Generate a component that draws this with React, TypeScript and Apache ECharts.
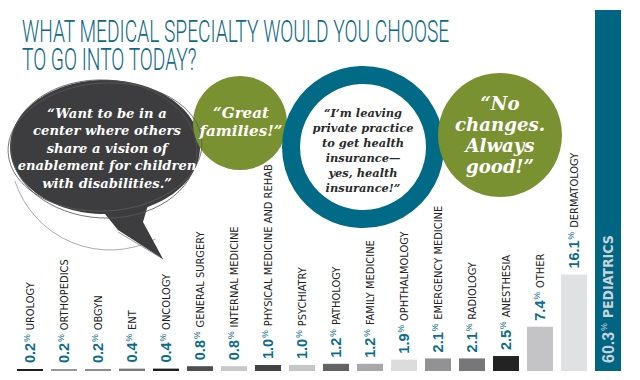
import React, { useEffect, useRef } from 'react';
import * as echarts from 'echarts';

const titleLines = ['WHAT MEDICAL SPECIALTY WOULD YOU CHOOSE', 'TO GO INTO TODAY?'];

const categories = [
  'UROLOGY', 'ORTHOPEDICS', 'OBGYN', 'ENT', 'ONCOLOGY', 'GENERAL SURGERY',
  'INTERNAL MEDICINE', 'PHYSICAL MEDICINE AND REHAB', 'PSYCHIATRY', 'PATHOLOGY',
  'FAMILY MEDICINE', 'OPHTHALMOLOGY', 'EMERGENCY MEDICINE', 'RADIOLOGY',
  'ANESTHESIA', 'OTHER', 'DERMATOLOGY', 'PEDIATRICS',
];
const values = [0.2, 0.2, 0.2, 0.4, 0.4, 0.8, 0.8, 1.0, 1.0, 1.2, 1.2, 1.9, 2.1, 2.1, 2.5, 7.4, 16.1, 60.3];
const barColors = [
  '#1e1e1e', '#9a9a9a', '#8c8c8c', '#7a7a7a', '#1e1e1e', '#4e4e50',
  '#c8c8c8', '#444446', '#c6c6c6', '#636365', '#a8a8aa', '#dcdcdc',
  '#929294', '#77777a', '#232323', '#c4c4c6', '#e0e1e3', '#006583',
];

const quoteBlob = '\u201CWant to be in a\ncenter where others\nshare a vision of\nenablement for children\nwith disabilities.\u201D';
const quoteGreat = '\u201CGreat\nfamilies!\u201D';
const quoteRing = '\u201CI\u2019m leaving\nprivate practice\nto get health\ninsurance\u2014\nyes, health\ninsurance!\u201D';
const quoteNo = '\u201CNo\nchanges.\nAlways\ngood!\u201D';

const GREEN = '#7a9132';
const NARROW = "'Liberation Sans Narrow', 'DejaVu Sans Condensed', 'Roboto Condensed', sans-serif";
const SANS = "'Liberation Sans', Arial, sans-serif";
const SERIF = "'DejaVu Serif', 'Liberation Serif', serif";

function measure(text: string, font: string): number {
  const c = document.createElement('canvas').getContext('2d') as CanvasRenderingContext2D;
  c.font = font;
  return c.measureText(text).width;
}

function fitSize(text: string, target: number): number {
  const w = measure(text, `italic bold 20px ${SERIF}`);
  return (20 * target) / w;
}

export default function App() {
  const ref = useRef<HTMLDivElement>(null);
  useEffect(() => {
    const chart = echarts.init(ref.current as HTMLDivElement, null, { renderer: 'svg' });

    const titleFont = `300 32px Roboto`;
    const titleScale = 428 / measure(titleLines[0], titleFont);

    const blobSize = fitSize('enablement for children', 179);
    const greatSize = fitSize('families!\u201D', 83);
    const ringSize = fitSize('private practice', 101);
    const noSize = fitSize('changes.', 90);

    const quoteText = (x: number, y: number, text: string, size: number, lh: number, fill: string) => ({
      type: 'text',
      x,
      y,
      z: 20,
      style: {
        text,
        fill,
        fontFamily: SERIF,
        fontStyle: 'italic',
        fontWeight: 'bold',
        fontSize: size,
        lineHeight: lh,
        align: 'center',
        textAlign: 'center',
        verticalAlign: 'middle',
        textVerticalAlign: 'middle',
      },
    });

    const data = values.map((v, i) => {
      const item: any = { value: v, itemStyle: { color: barColors[i] } };
      if (i === values.length - 1) {
        item.label = {
          position: 'insideBottom',
          distance: 8,
          formatter: `{pp|${v.toFixed(1)}}{ps|%}{pn|${categories[i]}}`,
        };
      }
      return item;
    });

    const option: any = {
      animation: false,
      grid: { left: 13, right: 15, top: 10, bottom: 9 },
      xAxis: {
        type: 'category',
        data: categories,
        show: false,
      },
      yAxis: { type: 'value', min: 0, max: 60.3, show: false },
      series: [
        {
          type: 'bar',
          data,
          barWidth: 26,
          barMinHeight: 2,
          label: {
            show: true,
            position: 'top',
            rotate: 90,
            align: 'left',
            verticalAlign: 'middle',
            distance: 6,
            formatter: (p: any) => `{p|${p.value.toFixed(1)}}{s|%}{n|${p.name}}`,
            rich: {
              p: { fontFamily: SANS, fontWeight: 'bold', fontSize: 14.5, color: '#0b6d8c', verticalAlign: 'middle', lineHeight: 15 },
              s: { fontFamily: SANS, fontSize: 8.5, color: '#0b6d8c', verticalAlign: 'top', padding: [0, 4, 0, 1], lineHeight: 9 },
              n: { fontFamily: NARROW, fontSize: 11, color: '#222222', verticalAlign: 'middle', lineHeight: 15 },
              pp: { fontFamily: SANS, fontWeight: 'bold', fontSize: 16, color: '#c9d3d8', verticalAlign: 'middle', lineHeight: 18 },
              ps: { fontFamily: SANS, fontSize: 8.5, color: '#c9d3d8', verticalAlign: 'top', padding: [0, 5, 0, 1], lineHeight: 9 },
              pn: { fontFamily: NARROW, fontWeight: 'bold', fontSize: 14, color: '#c9d3d8', verticalAlign: 'middle', lineHeight: 18 },
            },
          },
        },
      ],
      graphic: [
        {
          type: 'text', x: 22, y: 31, scaleX: titleScale, z: 20,
          style: { text: titleLines[0], fill: '#0f6a8a', font: titleFont, verticalAlign: 'middle', textVerticalAlign: 'middle' },
        },
        {
          type: 'text', x: 22, y: 59, scaleX: titleScale, z: 20,
          style: { text: titleLines[1], fill: '#0f6a8a', font: titleFont, verticalAlign: 'middle', textVerticalAlign: 'middle' },
        },
        // speech blob
        {
          type: 'polygon', z: 10,
          shape: { points: [[92, 198], [150, 198], [143, 222], [163, 259], [118, 230]] },
          style: { fill: '#3d3d3f' },
        },
        {
          type: 'ellipse', z: 10,
          shape: { cx: 105, cy: 147, rx: 95, ry: 67 },
          style: { fill: '#3d3d3f' },
        },
        {
          type: 'ellipse', z: 11, originX: 105, originY: 147, rotation: 0.06,
          shape: { cx: 105, cy: 147, rx: 97, ry: 64 },
          style: { fill: 'none', stroke: '#5a5a5a', lineWidth: 0.8 },
        },
        {
          type: 'ellipse', z: 11, originX: 105, originY: 147, rotation: -0.05,
          shape: { cx: 104, cy: 149, rx: 93, ry: 69 },
          style: { fill: 'none', stroke: '#555', lineWidth: 0.8 },
        },
        {
          type: 'arc', z: 9,
          shape: { cx: 110, cy: 150, r: 100, startAngle: 0.35 * Math.PI, endAngle: 0.9 * Math.PI },
          style: { fill: 'none', stroke: '#888', lineWidth: 0.7 },
        },
        {
          type: 'line', z: 9,
          shape: { x1: 118, y1: 232, x2: 163, y2: 259 },
          style: { stroke: '#777', lineWidth: 0.7 },
        },
        quoteText(107, 148, quoteBlob, blobSize, 17.5, '#ffffff'),
        // great families
        {
          type: 'circle', z: 10,
          shape: { cx: 240, cy: 123, r: 47 },
          style: { fill: GREEN },
        },
        quoteText(241, 122, quoteGreat, greatSize, 18, '#ffffff'),
        // ring
        {
          type: 'circle', z: 10,
          shape: { cx: 363, cy: 147, r: 72 },
          style: { fill: '#ffffff', stroke: '#006a87', lineWidth: 18 },
        },
        quoteText(363, 150.5, quoteRing, ringSize, 15, '#2a2a2a'),
        // no changes
        {
          type: 'circle', z: 12,
          shape: { cx: 500, cy: 135, r: 62 },
          style: { fill: GREEN },
        },
        quoteText(500, 135, quoteNo, noSize, 21, '#ffffff'),
      ],
    };

    chart.setOption(option);
    return () => chart.dispose();
  }, []);
  return <div ref={ref} style={{ position: 'absolute', left: 0, top: 0, width: 640, height: 380 }} />;
}
